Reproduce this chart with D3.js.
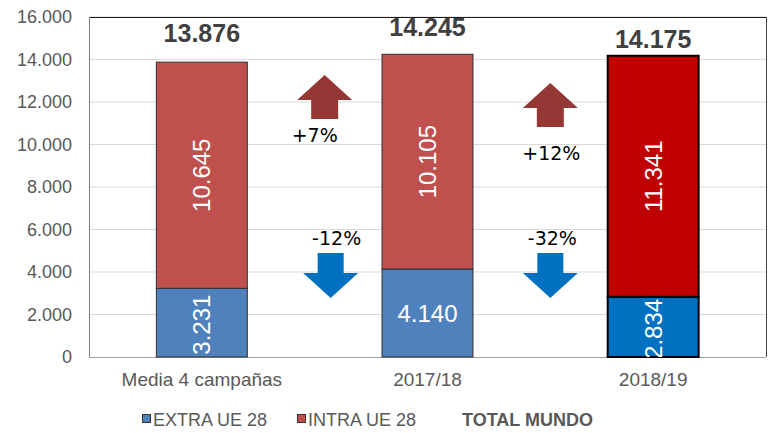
<!DOCTYPE html>
<html><head><meta charset="utf-8">
<script src="https://cdn.jsdelivr.net/npm/d3@7"></script>
<style>body{margin:0;background:#fff}svg{display:block}</style>
</head><body><svg id="c" width="769" height="433"></svg>
<script>
const categories = ["Media 4 campañas", "2017/18", "2018/19"];
const extra = [3231, 4140, 2834];
const intra = [10645, 10105, 11341];
const totals = [13876, 14245, 14175];
const extraLabels = ["3.231", "4.140", "2.834"];
const intraLabels = ["10.645", "10.105", "11.341"];
const totalLabels = ["13.876", "14.245", "14.175"];
const yTicks = [0, 2000, 4000, 6000, 8000, 10000, 12000, 14000, 16000];
const yTickLabels = ["0", "2.000", "4.000", "6.000", "8.000", "10.000", "12.000", "14.000", "16.000"];
const changesIntra = ["+7%", "+12%"];
const changesExtra = ["-12%", "-32%"];
const legendItems = ["EXTRA UE 28", "INTRA UE 28", "TOTAL MUNDO"];

const svg = d3.select("#c");
const L = 89, R = 766, T = 17, B = 357;
const x = d3.scaleBand().domain(categories).range([L, R]).paddingInner(0.597).paddingOuter(0.2985);
const y = d3.scaleLinear().domain([0, 16000]).range([B, T]);

const extraColors = ["#4F81BD", "#4F81BD", "#0070C0"];
const intraColors = ["#C0504D", "#C0504D", "#C00000"];
const strokeW = [1, 1, 2];
const strokeC = ["#303030", "#303030", "#000"];
const totalOffsets = [20, 18, 8];
const extraRotated = [true, false, true];

// grid
svg.append("g").selectAll("line").data(yTicks.slice(1)).join("line")
  .attr("x1", L).attr("x2", R).attr("y1", d => y(d)).attr("y2", d => y(d))
  .attr("stroke", "#d9d9d9").attr("stroke-width", 1);

// y axis labels
const yAxis = d3.axisLeft(y).tickValues(yTicks).tickSize(0).tickPadding(17)
  .tickFormat((d, i) => yTickLabels[i]);
const ga = svg.append("g").attr("transform", `translate(${L},0)`).call(yAxis);
ga.select(".domain").remove();
ga.selectAll("text").attr("font-family", "Liberation Sans, Arial, sans-serif")
  .attr("font-size", 18).attr("fill", "#595959");

// x axis labels
const xAxis = d3.axisBottom(x).tickSize(0).tickPadding(16);
const gx = svg.append("g").attr("transform", `translate(0,${B})`).call(xAxis);
gx.select(".domain").remove();
gx.selectAll("text").attr("font-family", "Liberation Sans, Arial, sans-serif")
  .attr("font-size", 19).attr("fill", "#595959");

// frame
svg.append("line").attr("x1", L).attr("x2", R).attr("y1", T + 0.5).attr("y2", T + 0.5).attr("stroke", "#1a1a1a");
svg.append("line").attr("x1", R + 0.5).attr("x2", R + 0.5).attr("y1", T).attr("y2", B).attr("stroke", "#404040");
svg.append("line").attr("x1", L + 0.5).attr("x2", L + 0.5).attr("y1", T).attr("y2", B).attr("stroke", "#808080");
svg.append("line").attr("x1", L).attr("x2", R).attr("y1", B + 0.5).attr("y2", B + 0.5).attr("stroke", "#a0a0a0");

// bars
const bw = x.bandwidth();
const bars = svg.append("g");
categories.forEach((c, i) => {
  const x0 = x(c);
  bars.append("rect").attr("x", x0).attr("width", bw)
    .attr("y", y(extra[i])).attr("height", y(0) - y(extra[i]))
    .attr("fill", extraColors[i]).attr("stroke", strokeC[i]).attr("stroke-width", strokeW[i]);
  bars.append("rect").attr("x", x0).attr("width", bw)
    .attr("y", y(extra[i] + intra[i])).attr("height", y(extra[i]) - y(extra[i] + intra[i]))
    .attr("fill", intraColors[i]).attr("stroke", strokeC[i]).attr("stroke-width", strokeW[i]);
});

// clip for inside labels
svg.append("clipPath").attr("id", "pc").append("rect").attr("x", L).attr("y", T).attr("width", R - L).attr("height", B - T);
const labels = svg.append("g").attr("clip-path", "url(#pc)")
  .attr("font-family", "Liberation Sans, Arial, sans-serif").attr("font-size", 24).attr("fill", "#fff");
categories.forEach((c, i) => {
  const cx = x(c) + bw / 2;
  const cyI = (y(extra[i]) + y(extra[i] + intra[i])) / 2;
  labels.append("text").attr("transform", `translate(${cx},${cyI}) rotate(-90)`)
    .attr("text-anchor", "middle").attr("dominant-baseline", "central").text(intraLabels[i]);
  const cyE = (y(0) + y(extra[i])) / 2;
  if (extraRotated[i]) {
    labels.append("text").attr("transform", `translate(${cx},${cyE + 2}) rotate(-90)`)
      .attr("text-anchor", "middle").attr("dominant-baseline", "central").text(extraLabels[i]);
  } else {
    labels.append("text").attr("x", cx).attr("y", cyE + 8.5)
      .attr("text-anchor", "middle").text(extraLabels[i]);
  }
  // totals
  svg.append("text").attr("x", cx).attr("y", y(totals[i]) - totalOffsets[i])
    .attr("text-anchor", "middle").attr("font-family", "Liberation Sans, Arial, sans-serif")
    .attr("font-weight", "bold").attr("font-size", 25).attr("fill", "#404040").text(totalLabels[i]);
});

// arrows and change labels (between categories)
function arrowPath(cx, yTop, yHeadBase, yBottom, headW, shaftW, up) {
  const hw = headW / 2, sw = shaftW / 2;
  if (up) {
    return `M${cx},${yTop} L${cx + hw},${yHeadBase} L${cx + sw},${yHeadBase} L${cx + sw},${yBottom} L${cx - sw},${yBottom} L${cx - sw},${yHeadBase} L${cx - hw},${yHeadBase} Z`;
  }
  return `M${cx - sw},${yTop} L${cx + sw},${yTop} L${cx + sw},${yHeadBase} L${cx + hw},${yHeadBase} L${cx},${yBottom} L${cx - hw},${yHeadBase} L${cx - sw},${yHeadBase} Z`;
}
const upTops = [13270, 12894];
const pctIntraY = [10118, 9270];
const ann = svg.append("g");
[0, 1].forEach(k => {
  const boundary = x(categories[k + 1]) - x.step() * x.paddingInner() / 2;
  const ux = boundary + 10;
  const t = y(upTops[k]);
  ann.append("path").attr("d", arrowPath(ux, t, t + 25, t + 44, 55, 27, true)).attr("fill", "#953735");
  const dx = boundary + (k === 0 ? 16 : 10);
  const dt = y(4894);
  ann.append("path").attr("d", arrowPath(dx, dt, dt + 20, dt + 45, 55, 26, false)).attr("fill", "#0070C0");
  ann.append("text").attr("x", boundary + (k === 0 ? 0 : 11)).attr("y", y(pctIntraY[k]))
    .attr("text-anchor", "middle").attr("font-family", "DejaVu Sans, sans-serif").attr("font-size", 19)
    .attr("fill", "#000").text(changesIntra[k]);
  ann.append("text").attr("x", boundary + (k === 0 ? 22 : 12)).attr("y", y(5270))
    .attr("text-anchor", "middle").attr("font-family", "DejaVu Sans, sans-serif").attr("font-size", 19)
    .attr("fill", "#000").text(changesExtra[k]);
});

// legend
const lg = svg.append("g").attr("font-family", "Liberation Sans, Arial, sans-serif").attr("font-size", 18).attr("fill", "#595959");
const legX = [142, 297, 462];
const legColors = ["#4F81BD", "#C0504D", null];
legendItems.forEach((t, i) => {
  if (legColors[i]) {
    lg.append("rect").attr("x", legX[i] + 0.5).attr("y", 414.5).attr("width", 8).attr("height", 8)
      .attr("fill", legColors[i]).attr("stroke", "#333").attr("stroke-width", 1);
    lg.append("text").attr("x", legX[i] + 11).attr("y", 426).text(t);
  } else {
    lg.append("text").attr("x", legX[i]).attr("y", 426).attr("font-weight", "bold").text(t);
  }
});
</script></body></html>
